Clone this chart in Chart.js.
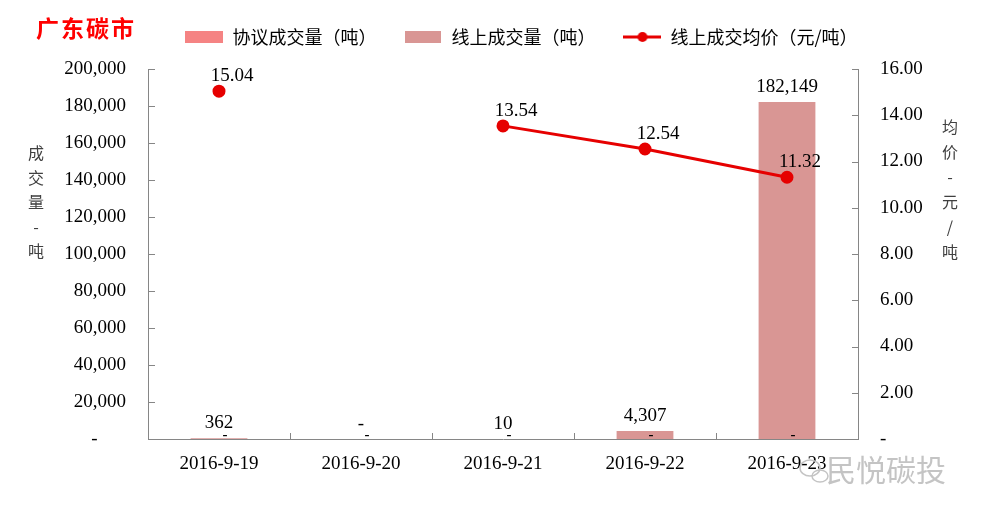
<!DOCTYPE html>
<html lang="zh-CN">
<head>
<meta charset="UTF-8">
<title>广东碳市</title>
<style>
  html, body { margin: 0; padding: 0; background: #fff; }
  #carbonChart { display: block; }
</style>
</head>
<body>
<canvas id="carbonChart" width="983" height="519"></canvas>

<script src="https://cdn.jsdelivr.net/npm/chart.js"></script>
<script>
// 数据
const categories = ['2016-9-19', '2016-9-20', '2016-9-21', '2016-9-22', '2016-9-23'];
const agreementVolume = [0, 0, 0, 0, 0];          // 协议成交量（吨）
const onlineVolume = [362, 0, 10, 4307, 182149];  // 线上成交量（吨）
const onlinePrice = [15.04, null, 13.54, 12.54, 11.32]; // 线上成交均价（元/吨）

const seriesNames = ['协议成交量（吨）', '线上成交量（吨）', '线上成交均价（元/吨）'];
const colAgreement = '#F58383';
const colOnline = '#D99694';
const colPrice = '#E60000';
const axisColor = '#868686';
const serif = "'Liberation Serif', 'Times New Roman', serif";
const cjk = "'Noto Sans CJK SC', sans-serif";

// 图例小图标
function swatch(color, w, h) {
    const c = document.createElement('canvas');
    c.width = w; c.height = h;
    const g = c.getContext('2d');
    g.fillStyle = color;
    g.fillRect(0, 0, w, h);
    return c;
}
function lineMarker(color) {
    const c = document.createElement('canvas');
    c.width = 38; c.height = 12;
    const g = c.getContext('2d');
    g.strokeStyle = color; g.lineWidth = 3;
    g.beginPath(); g.moveTo(0, 6); g.lineTo(38, 6); g.stroke();
    g.fillStyle = color;
    g.beginPath(); g.arc(19, 6, 5, 0, Math.PI * 2); g.fill();
    return c;
}
const legendIcons = [swatch(colAgreement, 38, 12), swatch(colOnline, 36, 12), lineMarker(colPrice)];

// 图例下方留出更多空间
const legendGapPlugin = {
    id: 'legendGap',
    beforeInit(chart) {
        const lg = chart.legend;
        if (!lg) return;
        const origFit = lg.fit;
        lg.fit = function () {
            origFit.call(this);
            this.height += 13;
        };
    }
};

// 标题、坐标轴标题、数据标签、内刻度
const extrasPlugin = {
    id: 'extras',
    afterDraw(chart) {
        const ctx = chart.ctx;
        const area = chart.chartArea;
        const xs = chart.scales.x, yl = chart.scales.y, yr = chart.scales.y1;
        ctx.save();

        // 内向刻度
        ctx.strokeStyle = axisColor;
        ctx.lineWidth = 1;
        ctx.beginPath();
        yl.ticks.forEach(t => {
            const y = Math.round(yl.getPixelForValue(t.value)) + 0.5;
            ctx.moveTo(area.left, y); ctx.lineTo(area.left + 7, y);
        });
        yr.ticks.forEach(t => {
            const y = Math.round(yr.getPixelForValue(t.value)) + 0.5;
            ctx.moveTo(area.right - 6, y); ctx.lineTo(area.right, y);
        });
        for (let i = 1; i < categories.length; i++) {
            const x = Math.round((xs.getPixelForValue(i - 1) + xs.getPixelForValue(i)) / 2) + 0.5;
            ctx.moveTo(x, area.bottom); ctx.lineTo(x, area.bottom - 6);
        }
        ctx.stroke();

        // 标题
        ctx.fillStyle = '#FF0000';
        ctx.font = "bold 23px " + cjk;
        ctx.textBaseline = 'middle';
        ctx.textAlign = 'left';
        '广东碳市'.split('').forEach((ch, i) => ctx.fillText(ch, 36 + i * 25, 28));

        // 纵向坐标轴标题（竖排）
        ctx.fillStyle = '#404040';
        ctx.font = "16px " + cjk;
        ctx.textAlign = 'center';
        const leftTitle = ['成', '交', '量', '-', '吨'];
        leftTitle.forEach((ch, i) => ctx.fillText(ch, 36, 153 + i * 24.5));
        const rightTitle = ['均', '价', '-', '元', '/', '吨'];
        rightTitle.forEach((ch, i) => ctx.fillText(ch, 950, 127 + i * 25));

        // 数据标签
        ctx.fillStyle = '#000';
        ctx.font = "19px " + serif;
        ctx.textAlign = 'center';
        chart.getDatasetMeta(1).data.forEach((bar, i) => {
            const v = onlineVolume[i];
            const txt = v === 0 ? '-' : v.toLocaleString('en-US');
            ctx.fillText(txt, bar.x, bar.y - 15);
        });
        ctx.font = "bold 15px " + serif;
        chart.getDatasetMeta(0).data.forEach((bar, i) => {
            const v = agreementVolume[i];
            ctx.fillText(v === 0 ? '-' : v.toLocaleString('en-US'), bar.x + 6, bar.y - 4);
        });
        ctx.font = "19px " + serif;
        chart.getDatasetMeta(2).data.forEach((pt, i) => {
            const v = onlinePrice[i];
            if (v === null) return;
            ctx.fillText(v.toFixed(2), pt.x + 13, pt.y - 15);
        });

        // 水印
        ctx.fillStyle = '#C4C4C4';
        ctx.font = "30px " + cjk;
        ctx.textAlign = 'left';
        ctx.fillText('民悦碳投', 826, 470);
        ctx.strokeStyle = '#C4C4C4';
        ctx.lineWidth = 1.5;
        ctx.beginPath(); ctx.ellipse(810, 468, 10, 8, 0, 0, Math.PI * 2); ctx.stroke();
        ctx.beginPath(); ctx.ellipse(820, 476, 8, 6, 0, 0, Math.PI * 2); ctx.stroke();

        ctx.restore();
    }
};

const ctx = document.getElementById('carbonChart').getContext('2d');
new Chart(ctx, {
    data: {
        labels: categories,
        datasets: [
            {
                type: 'bar',
                label: seriesNames[0],
                data: agreementVolume,
                backgroundColor: colAgreement,
                yAxisID: 'y',
                barPercentage: 0.4,
                categoryPercentage: 1,
                order: 1
            },
            {
                type: 'bar',
                label: seriesNames[1],
                data: onlineVolume,
                backgroundColor: colOnline,
                yAxisID: 'y',
                barPercentage: 0.4,
                categoryPercentage: 1,
                order: 1
            },
            {
                type: 'line',
                label: seriesNames[2],
                data: onlinePrice,
                borderColor: colPrice,
                backgroundColor: colPrice,
                borderWidth: 3,
                pointRadius: 5,
                pointBackgroundColor: colPrice,
                pointBorderColor: colPrice,
                spanGaps: false,
                tension: 0,
                yAxisID: 'y1',
                order: 0
            }
        ]
    },
    options: {
        responsive: false,
        animation: false,
        devicePixelRatio: 1,
        layout: { padding: { left: 60, right: 0, top: 0, bottom: 0 } },
        plugins: {
            tooltip: { enabled: false },
            legend: {
                position: 'top',
                labels: {
                    usePointStyle: true,
                    pointStyleWidth: 38,
                    padding: 28,
                    color: '#000',
                    font: { family: cjk, size: 18 },
                    generateLabels: () => seriesNames.map((name, i) => ({
                        text: name,
                        pointStyle: legendIcons[i],
                        fillStyle: 'transparent',
                        strokeStyle: 'transparent',
                        lineWidth: 0,
                        hidden: false,
                        datasetIndex: i,
                        fontColor: '#000'
                    }))
                }
            }
        },
        scales: {
            x: {
                stacked: true,
                grid: { display: false, drawTicks: false },
                border: { display: true, color: axisColor, width: 1 },
                ticks: { color: '#000', font: { family: serif, size: 19 }, padding: 14, maxRotation: 0 },
                afterFit(scale) { scale.height = 80; }
            },
            y: {
                stacked: true,
                position: 'left',
                min: 0,
                max: 200000,
                grid: { display: false, drawTicks: false },
                border: { display: true, color: axisColor, width: 1 },
                ticks: {
                    stepSize: 20000,
                    color: '#000',
                    padding: 22,
                    font: { family: serif, size: 19 },
                    callback: v => v === 0 ? '-      ' : v.toLocaleString('en-US')
                },
                afterFit(scale) { scale.width = 88; }
            },
            y1: {
                position: 'right',
                min: 0,
                max: 16,
                grid: { display: false, drawTicks: false },
                border: { display: true, color: axisColor, width: 1 },
                ticks: {
                    stepSize: 2,
                    color: '#000',
                    padding: 22,
                    font: { family: serif, size: 19 },
                    callback: v => v === 0 ? '-' : v.toFixed(2)
                },
                afterFit(scale) { scale.width = 125; }
            }
        }
    },
    plugins: [legendGapPlugin, extrasPlugin]
});
</script>
</body>
</html>
